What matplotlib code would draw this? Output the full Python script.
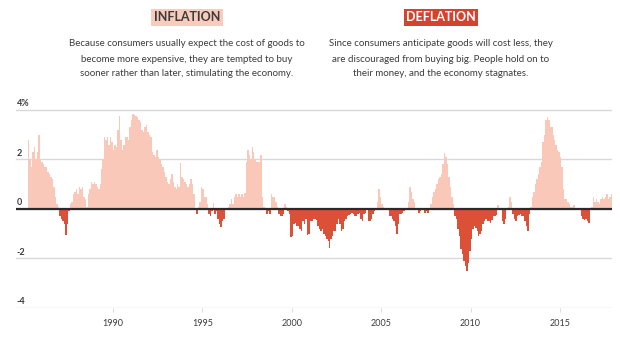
import matplotlib
matplotlib.use("Agg")
import matplotlib.pyplot as plt
import numpy as np

# Year-on-year change in consumer prices, monthly, starting April 1985 (%)
start_year = 1985
start_month = 4
cpi_yoy = [
    2.8, 2.0, 1.7, 2.3, 2.5, 2.0, 2.3, 3.0, 2.0,                          # 1985
    1.9, 1.8, 1.7, 1.7, 1.5, 1.4, 1.3, 1.2, 0.9, 0.5, 0.2, 0.1,           # 1986
    -0.3, -0.4, -0.5, -0.6, -1.07, -0.6, -0.1, 0.2, 0.3, 0.6, 0.7, 0.8,   # 1987
    0.6, 0.9, 0.8, 0.9, 0.5, 0.4, 0.1, 0.6, 0.8, 1.1, 1.0, 1.1,           # 1988
    1.0, 0.9, 0.8, 1.0, 1.6, 2.0, 2.9, 2.8, 2.9, 2.6, 2.9, 2.7,           # 1989
    2.4, 2.6, 2.5, 3.2, 3.77, 2.8, 2.4, 2.6, 2.9, 2.9, 2.8, 3.3,          # 1990
    3.6, 3.84, 3.8, 3.75, 3.7, 3.6, 3.5, 3.2, 3.1, 3.3, 3.4, 3.1,         # 1991
    3.0, 2.9, 2.3, 2.2, 2.1, 2.4, 2.1, 2.0, 1.8, 1.7, 1.5, 1.3,           # 1992
    1.1, 1.0, 1.2, 1.4, 1.1, 0.9, 0.8, 1.0, 0.9, 1.84, 1.3, 1.2,          # 1993
    1.1, 1.0, 0.9, 1.0, 1.2, 1.0, 0.6, 0.0, -0.2, 0.1, 0.3, 0.9,          # 1994
    0.8, 0.5, 0.5, 0.2, -0.2, -0.3, -0.1, 0.24, -0.2, -0.1, -0.4, -0.6,   # 1995
    -0.74, -0.5, -0.4, 0.0, 0.05, 0.1, 0.2, 0.4, 0.2, 0.5, 0.6, 0.5,      # 1996
    0.6, 0.5, 0.6, 0.5, 0.64, 1.9, 2.4, 2.2, 2.0, 2.5, 2.3, 2.0,          # 1997
    1.9, 1.9, 1.9, 2.2, 0.5, 0.1, 0.0, -0.2, -0.1, -0.2, 0.6, 0.5,        # 1998
    0.5, 0.3, 0.1, -0.2, -0.3, -0.3, -0.2, 0.2, 0.1, -0.1, -0.2, -1.15,   # 1999
    -1.1, -0.6, -0.55, -0.7, -0.7, -0.8, -0.9, -0.5, -0.6, -0.4, -1.05, -1.0,  # 2000
    -0.5, -0.5, -0.4, -0.4, -0.45, -0.7, -0.8, -0.9, -0.8, -1.0, -1.1, -1.2,   # 2001
    -1.3, -1.56, -1.2, -1.1, -0.9, -0.9, -0.6, -0.4, -0.6, -0.9, -0.8, -0.5,   # 2002
    -0.4, -0.3, -0.25, -0.2, -0.15, -0.2, -0.3, -0.3, -0.2, -0.15, -0.4, -0.5, # 2003
    -0.2, -0.15, -0.05, -0.5, -0.5, -0.4, -0.2, -0.1, 0.0, 0.3, 0.8, 0.5,      # 2004
    0.2, 0.1, -0.05, -0.05, 0.0, -0.3, -0.3, -0.4, -0.5, -0.7, -1.0, -0.6,     # 2005
    -0.2, -0.2, -0.15, -0.1, 0.05, 0.0, 0.3, 0.9, 0.7, 0.4, 0.3, 0.0,          # 2006
    0.0, -0.15, -0.1, 0.0, 0.05, -0.15, -0.1, -0.15, 0.0, 0.2, 0.5, 0.7,       # 2007
    0.8, 1.0, 1.2, 1.3, 1.4, 1.8, 2.25, 2.1, 1.8, 1.3, 0.9, 0.5,               # 2008
    0.2, -0.3, -0.4, -0.8, -1.1, -1.6, -1.8, -2.1, -2.3, -2.5, -2.2, -1.7,     # 2009
    -1.2, -0.8, -0.7, -0.75, -0.9, -1.1, -1.0, -0.9, -0.6, -0.5, -0.4, -0.5,   # 2010
    -0.5, -0.55, -0.45, -0.3, -0.3, -0.25, 0.15, 0.05, 0.0, -0.5, -0.6, -0.4,  # 2011
    -0.05, 0.1, 0.5, 0.3, -0.2, -0.4, -0.5, -0.3, -0.25, -0.2, -0.3, -0.3,     # 2012
    -0.5, -0.7, -0.9, -0.2, 0.1, 0.5, 0.7, 1.0, 1.2, 1.4, 1.7, 1.9,            # 2013
    2.7, 3.0, 3.6, 3.7, 3.6, 3.3, 3.3, 3.0, 2.8, 2.6, 2.4, 2.3,                # 2014
    2.1, 1.7, 0.8, 0.4, 0.4, 0.3, 0.2, 0.1, 0.1, 0.15, 0.0, 0.05,              # 2015
    -0.05, 0.0, -0.3, -0.4, -0.45, -0.4, -0.5, -0.55, -0.05, 0.1, 0.5, 0.3,    # 2016
    0.4, 0.3, 0.2, 0.4, 0.5, 0.4, 0.5, 0.6, 0.4, 0.5, 0.6,                     # 2017
]

y_ticks = [4, 2, 0, -2, -4]
y_labels = ["4%", "2", "0", "-2", "-4"]
x_ticks = [1990, 1995, 2000, 2005, 2010, 2015]

left_title = "INFLATION"
right_title = "DEFLATION"
left_lines = ["Because consumers usually expect the cost of goods to",
              "become more expensive, they are tempted to buy",
              "sooner rather than later, stimulating the economy."]
right_lines = ["Since consumers anticipate goods will cost less, they",
               "are discouraged from buying big. People hold on to",
               "their money, and the economy stagnates."]

pos_color = "#f9c8b8"
neg_color = "#dd5038"
text_color = "#3c3c3c"

plt.rcParams['font.family'] = ['Lato', 'DejaVu Sans']

W, H = 620, 337
fig = plt.figure(figsize=(W / 100, H / 100), dpi=100)
ax = fig.add_axes([16 / W, 1 - 308 / H, 596 / W, (308 - 103.8) / H])

positions = start_year + (start_month - 1 + np.arange(len(cpi_yoy))) / 12
colors = [pos_color if v >= 0 else neg_color for v in cpi_yoy]
ax.bar(positions, cpi_yoy, width=1 / 12, align='edge', color=colors, linewidth=0, zorder=2)

x_min, x_max = 1984.58, 2017.91
ax.set_xlim(x_min, x_max)
ax.set_ylim(-4, 4.25)

for t, lab in zip(y_ticks, y_labels):
    ax.axhline(t, color="#d9d9d9", lw=1.0, zorder=1)
    ax.text(x_min + 0.05, t + 0.08, lab, fontsize=6.5, ha='left', va='bottom',
            color=text_color, fontweight='bold')
ax.axhline(0, color="#2a2a2a", lw=1.6, zorder=3)

for s in ax.spines.values():
    s.set_visible(False)
ax.set_yticks([])
ax.set_xticks(x_ticks)
ax.set_xticklabels([str(x) for x in x_ticks])
ax.tick_params(axis='x', length=3, color="#dddddd", labelsize=6.5, labelcolor=text_color, pad=5)

fig.text(187 / W, 1 - 17 / H, left_title, ha='center', va='center', fontsize=9,
         fontweight='bold', color=text_color,
         bbox=dict(boxstyle='square,pad=0.2', fc="#f9cbbd", ec='none'))
fig.text(441 / W, 1 - 17 / H, right_title, ha='center', va='center', fontsize=9,
         fontweight='bold', color='white',
         bbox=dict(boxstyle='square,pad=0.2', fc="#d6422e", ec='none'))

for i, line in enumerate(left_lines):
    fig.text(187 / W, 1 - (44 + 15 * i) / H, line, ha='center', va='center',
             fontsize=7, color=text_color)
for i, line in enumerate(right_lines):
    fig.text(441 / W, 1 - (44 + 15 * i) / H, line, ha='center', va='center',
             fontsize=7, color=text_color)

fig.savefig("out.png", dpi=100)
